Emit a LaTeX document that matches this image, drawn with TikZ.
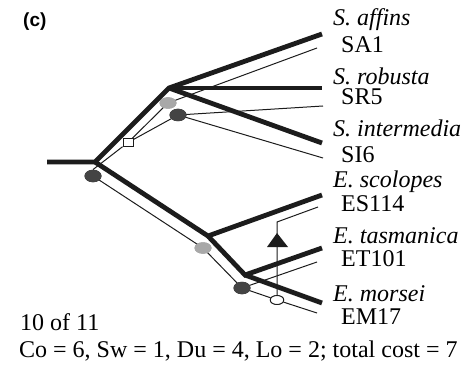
\documentclass[tikz,border=0pt]{standalone}
\usepackage{fontspec}
\setmainfont{Liberation Serif}
\newfontfamily\headfont{Liberation Sans}
\usetikzlibrary{shapes.geometric}
\definecolor{hostc}{RGB}{28,28,28}
\definecolor{darkc}{RGB}{68,68,68}
\definecolor{lightc}{RGB}{168,168,168}
\begin{document}
\begin{tikzpicture}[x=1pt,y=-1pt,
  host/.style={line width=4.8pt, draw=hostc, line join=miter},
  para/.style={line width=1pt, draw=hostc},
  darkev/.style={ellipse, fill=darkc, draw=none, minimum width=17pt, minimum height=12.5pt, inner sep=0pt},
  lightev/.style={ellipse, fill=lightc, draw=none, minimum width=17pt, minimum height=11.5pt, inner sep=0pt},
  openev/.style={ellipse, fill=white, draw=hostc, line width=0.9pt, minimum width=13.5pt, minimum height=9pt, inner sep=0pt},
  dupev/.style={rectangle, fill=white, draw=hostc, line width=0.9pt, minimum width=10pt, minimum height=7.5pt, inner sep=0pt},
  lab/.style={anchor=base west, inner sep=0pt, font=\fontsize{24}{28}\selectfont},
  splab/.style={lab, font=\fontsize{24}{28}\selectfont\itshape}]
\useasboundingbox (0,0) rectangle (465,366);
% host tree joints
\coordinate (R0) at (47,162);
\coordinate (A) at (95,162);
\coordinate (B) at (169,88);
\coordinate (C) at (208,236);
\coordinate (D) at (245,275);
\coordinate (SAt) at (322,34);
\coordinate (SRt) at (322,88);
\coordinate (SIt) at (322,143);
\coordinate (ESt) at (322,195);
\coordinate (ETt) at (322,248);
\coordinate (EMt) at (322,303);
% parasite leaf ends
\coordinate (SAp) at (317,48);
\coordinate (SRp) at (323,106);
\coordinate (SIp) at (323,158);
\coordinate (ESp) at (318,207);
\coordinate (ETp) at (317,262);
\coordinate (EMp) at (317,313);
\coordinate (sw) at (277,222);
% parasite events
\node[darkev] (p0) at (93,176) {};
\node[dupev] (sq) at (128,142.5) {};
\node[lightev] (g1) at (168,103) {};
\node[darkev] (d1) at (178,115) {};
\node[lightev] (g2) at (203,248) {};
\node[darkev] (d2) at (242,288) {};
\node[openev] (o) at (277,300) {};
% parasite tree (thin)
\draw[para] (p0.north) -- (sq);
\draw[para] (sq) -- (g1.center) -- (SAp);
\draw[para] (sq) -- (d1.center) -- (SRp);
\draw[para] (d1.center) -- (SIp);
\draw[para] (p0.center) -- (g2.center) -- (d2.center) -- (ETp);
\draw[para] (d2.center) -- (o) -- (EMp);
\draw[para] (o) -- (sw) -- (ESp);
\fill[hostc] (277,233) -- (288,247) -- (267,247) -- cycle;
% host tree (thick)
\draw[host] (R0) -- (A) -- (B) -- (SAt);
\draw[host] (B) -- (SRt);
\draw[host] (B) -- (SIt);
\draw[host] (A) -- (C) -- (ESt);
\draw[host] (C) -- (D) -- (ETt);
\draw[host] (D) -- (EMt);
% events on top
\node[darkev] at (p0) {};
\node[dupev] at (sq) {};
\node[lightev] at (g1) {};
\node[darkev] at (d1) {};
\node[lightev] at (g2) {};
\node[darkev] at (d2) {};
\node[openev] at (o) {};
% labels
\node[anchor=base west, inner sep=0pt, font=\headfont\bfseries\fontsize{19}{22}\selectfont] (head) at (23,27) {(c)};
\node[splab] (nSA) at (333,26) {S. affins};
\node[lab] (cSA) at (341,53) {SA1};
\node[splab] (nSR) at (333,84.5) {S. robusta};
\node[lab] (cSR) at (341,105) {SR5};
\node[splab] (nSI) at (333,137) {S. intermedia};
\node[lab] (cSI) at (341,162) {SI6};
\node[splab] (nES) at (333,187) {E. scolopes};
\node[lab] (cES) at (341,211) {ES114};
\node[splab] (nET) at (333,243) {E. tasmanica};
\node[lab] (cET) at (341,266) {ET101};
\node[splab] (nEM) at (333,301) {E. morsei};
\node[lab] (cEM) at (341,324) {EM17};
\node[lab] (rank) at (20,330) {10 of 11};
\node[lab] (cost) at (19,357) {Co = 6, Sw = 1, Du = 4, Lo = 2; total cost = 7};
\end{tikzpicture}
\end{document}
